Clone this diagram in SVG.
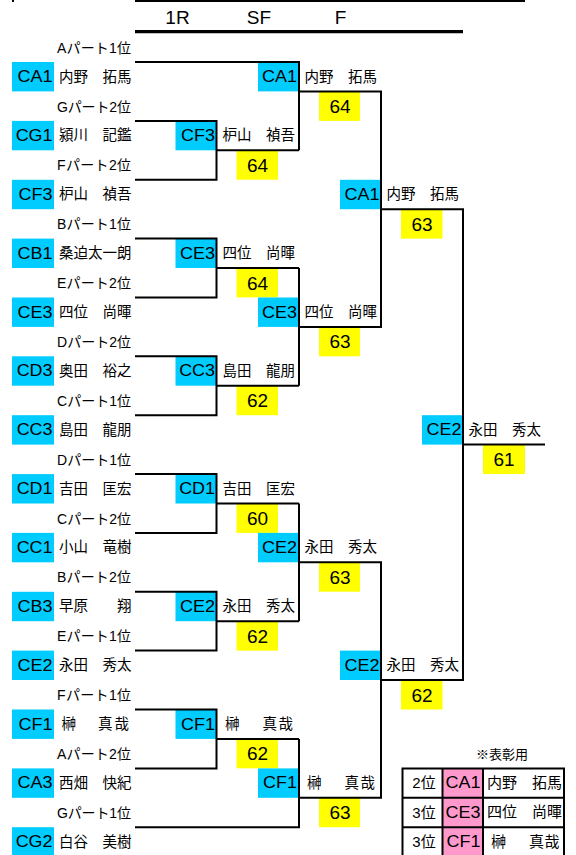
<svg xmlns="http://www.w3.org/2000/svg" width="576" height="855" viewBox="0 0 576 855">
<style>
.bg{fill:#ffffff}
.code{fill:#00CCFF}
.pink{fill:#FF99CC}
.score{fill:#FFFF00}
.ln{fill:none;stroke:#000;stroke-width:2}
.hd{fill:none;stroke:#000;stroke-width:3.3}
.ct{font-family:"Liberation Sans",Arial,sans-serif;font-size:16px;fill:#000;text-anchor:end}
.nm{font-family:"Noto Sans CJK JP","Liberation Sans",sans-serif;font-size:14.5px;fill:#000}
.tn{font-family:"Noto Sans CJK JP","Liberation Sans",sans-serif;font-size:15px;fill:#000}
.pt{font-family:"Liberation Sans","Noto Sans CJK JP",sans-serif;font-size:14px;fill:#000}
.sc{font-family:"Liberation Sans",Arial,sans-serif;font-size:19px;fill:#000;text-anchor:middle}
.hdt{font-family:"Liberation Sans",Arial,sans-serif;font-size:19px;fill:#000;text-anchor:middle}
.tp{font-family:"Liberation Sans","Noto Sans CJK JP",sans-serif;font-size:15px;fill:#000;text-anchor:middle}
.note{font-family:"Noto Sans CJK JP",sans-serif;font-size:13px;fill:#000;text-anchor:middle}
</style>
<rect class="bg" x="0" y="0" width="576" height="855"/>

<g id="header">
<rect x="12" y="0" width="2" height="2" fill="#000"/>
<line class="ln" x1="135" y1="1" x2="525" y2="1"/>
<text class="hdt" x="177.5" y="24">1R</text>
<text class="hdt" x="259" y="24">SF</text>
<text class="hdt" x="340.5" y="24">F</text>
<line class="hd" x1="135" y1="31.7" x2="463" y2="31.7"/>
</g>

<g id="part-labels">
<text class="pt" x="57" y="52.6" textLength="74">Aパート1位</text>
<text class="pt" x="57" y="111.5" textLength="74">Gパート2位</text>
<text class="pt" x="57" y="170.3" textLength="74">Fパート2位</text>
<text class="pt" x="57" y="229.2" textLength="74">Bパート1位</text>
<text class="pt" x="57" y="288.0" textLength="74">Eパート2位</text>
<text class="pt" x="57" y="346.9" textLength="74">Dパート2位</text>
<text class="pt" x="57" y="405.8" textLength="74">Cパート1位</text>
<text class="pt" x="57" y="464.6" textLength="74">Dパート1位</text>
<text class="pt" x="57" y="523.5" textLength="74">Cパート2位</text>
<text class="pt" x="57" y="582.3" textLength="74">Bパート2位</text>
<text class="pt" x="57" y="641.2" textLength="74">Eパート1位</text>
<text class="pt" x="57" y="700.1" textLength="74">Fパート1位</text>
<text class="pt" x="57" y="758.9" textLength="74">Aパート2位</text>
<text class="pt" x="57" y="817.8" textLength="74">Gパート1位</text>
</g>

<!-- Round 1 entries -->
<g id="r1-CA1"><rect class="code" x="12" y="62.0" width="42" height="29.4"/><text class="ct" x="52.5" y="82.0" textLength="34.9" lengthAdjust="spacingAndGlyphs">CA1</text><text class="nm" x="59" y="81.5">内野　拓馬</text></g>
<g id="r1-CG1"><rect class="code" x="12" y="120.9" width="42" height="29.4"/><text class="ct" x="52.5" y="140.9" textLength="36.8" lengthAdjust="spacingAndGlyphs">CG1</text><text class="nm" x="59" y="140.4">潁川　記鑑</text></g>
<g id="r1-CF3"><rect class="code" x="12" y="179.8" width="42" height="29.4"/><text class="ct" x="52.5" y="199.8" textLength="33.9" lengthAdjust="spacingAndGlyphs">CF3</text><text class="nm" x="59" y="199.3">枦山　禎吾</text></g>
<g id="r1-CB1"><rect class="code" x="12" y="238.6" width="42" height="29.4"/><text class="ct" x="52.5" y="258.6" textLength="34.9" lengthAdjust="spacingAndGlyphs">CB1</text><text class="nm" x="59" y="258.1">桑迫太一朗</text></g>
<g id="r1-CE3"><rect class="code" x="12" y="297.5" width="42" height="29.4"/><text class="ct" x="52.5" y="317.5" textLength="34.9" lengthAdjust="spacingAndGlyphs">CE3</text><text class="nm" x="59" y="317.0">四位　尚暉</text></g>
<g id="r1-CD3"><rect class="code" x="12" y="356.3" width="42" height="29.4"/><text class="ct" x="52.5" y="376.3" textLength="35.8" lengthAdjust="spacingAndGlyphs">CD3</text><text class="nm" x="59" y="375.8">奥田　裕之</text></g>
<g id="r1-CC3"><rect class="code" x="12" y="415.2" width="42" height="29.4"/><text class="ct" x="52.5" y="435.2" textLength="35.8" lengthAdjust="spacingAndGlyphs">CC3</text><text class="nm" x="59" y="434.7">島田　龍朋</text></g>
<g id="r1-CD1"><rect class="code" x="12" y="474.1" width="42" height="29.4"/><text class="ct" x="52.5" y="494.1" textLength="35.8" lengthAdjust="spacingAndGlyphs">CD1</text><text class="nm" x="59" y="493.6">吉田　匡宏</text></g>
<g id="r1-CC1"><rect class="code" x="12" y="532.9" width="42" height="29.4"/><text class="ct" x="52.5" y="552.9" textLength="35.8" lengthAdjust="spacingAndGlyphs">CC1</text><text class="nm" x="59" y="552.4">小山　竜樹</text></g>
<g id="r1-CB3"><rect class="code" x="12" y="591.8" width="42" height="29.4"/><text class="ct" x="52.5" y="611.8" textLength="34.9" lengthAdjust="spacingAndGlyphs">CB3</text><text class="nm" x="59" y="611.3">早原　　翔</text></g>
<g id="r1-CE2"><rect class="code" x="12" y="650.6" width="42" height="29.4"/><text class="ct" x="52.5" y="670.6" textLength="34.9" lengthAdjust="spacingAndGlyphs">CE2</text><text class="nm" x="59" y="670.1">永田　秀太</text></g>
<g id="r1-CF1"><rect class="code" x="12" y="709.5" width="42" height="29.4"/><text class="ct" x="52.5" y="729.5" textLength="33.9" lengthAdjust="spacingAndGlyphs">CF1</text><text class="nm" x="61.5 76 87 98 114.5" y="729.0">榊　　真哉</text></g>
<g id="r1-CA3"><rect class="code" x="12" y="768.4" width="42" height="29.4"/><text class="ct" x="52.5" y="788.4" textLength="34.9" lengthAdjust="spacingAndGlyphs">CA3</text><text class="nm" x="59" y="787.9">西畑　快紀</text></g>
<g id="r1-CG2"><rect class="code" x="12" y="827.2" width="42" height="29.4"/><text class="ct" x="52.5" y="847.2" textLength="36.8" lengthAdjust="spacingAndGlyphs">CG2</text><text class="nm" x="59" y="846.7">白谷　美樹</text></g>

<!-- SF column entries (1R winners) -->
<g id="sf-CF3"><rect class="code" x="175.5" y="120.9" width="41" height="29.4"/><text class="ct" x="215" y="140.9" textLength="33.9" lengthAdjust="spacingAndGlyphs">CF3</text><text class="nm" x="222.5" y="140.4">枦山　禎吾</text><rect class="score" x="236.5" y="150.3" width="41.5" height="29.4"/><text class="sc" x="257.5" y="171.8">64</text></g>
<g id="sf-CE3"><rect class="code" x="175.5" y="238.6" width="41" height="29.4"/><text class="ct" x="215" y="258.6" textLength="34.9" lengthAdjust="spacingAndGlyphs">CE3</text><text class="nm" x="222.5" y="258.1">四位　尚暉</text><rect class="score" x="236.5" y="268.0" width="41.5" height="29.4"/><text class="sc" x="257.5" y="289.5">64</text></g>
<g id="sf-CC3"><rect class="code" x="175.5" y="356.3" width="41" height="29.4"/><text class="ct" x="215" y="376.3" textLength="35.8" lengthAdjust="spacingAndGlyphs">CC3</text><text class="nm" x="222.5" y="375.8">島田　龍朋</text><rect class="score" x="236.5" y="385.8" width="41.5" height="29.4"/><text class="sc" x="257.5" y="407.3">62</text></g>
<g id="sf-CD1"><rect class="code" x="175.5" y="474.1" width="41" height="29.4"/><text class="ct" x="215" y="494.1" textLength="35.8" lengthAdjust="spacingAndGlyphs">CD1</text><text class="nm" x="222.5" y="493.6">吉田　匡宏</text><rect class="score" x="236.5" y="503.5" width="41.5" height="29.4"/><text class="sc" x="257.5" y="525.0">60</text></g>
<g id="sf-CE2"><rect class="code" x="175.5" y="591.8" width="41" height="29.4"/><text class="ct" x="215" y="611.8" textLength="34.9" lengthAdjust="spacingAndGlyphs">CE2</text><text class="nm" x="222.5" y="611.3">永田　秀太</text><rect class="score" x="236.5" y="621.2" width="41.5" height="29.4"/><text class="sc" x="257.5" y="642.7">62</text></g>
<g id="sf-CF1"><rect class="code" x="175.5" y="709.5" width="41" height="29.4"/><text class="ct" x="215" y="729.5" textLength="33.9" lengthAdjust="spacingAndGlyphs">CF1</text><text class="nm" x="225 239.5 250.5 262.5 278.5" y="729.0">榊　　真哉</text><rect class="score" x="236.5" y="738.9" width="41.5" height="29.4"/><text class="sc" x="257.5" y="760.4">62</text></g>

<!-- F column entries (SF winners) -->
<g id="f-CA1"><rect class="code" x="258" y="62.0" width="41" height="29.4"/><text class="ct" x="297" y="82.0" textLength="34.9" lengthAdjust="spacingAndGlyphs">CA1</text><text class="nm" x="304.5" y="81.5">内野　拓馬</text><rect class="score" x="319" y="91.5" width="41" height="29.4"/><text class="sc" x="340" y="113.0">64</text></g>
<g id="f-CE3"><rect class="code" x="258" y="297.5" width="41" height="29.4"/><text class="ct" x="297" y="317.5" textLength="34.9" lengthAdjust="spacingAndGlyphs">CE3</text><text class="nm" x="304.5" y="317.0">四位　尚暉</text><rect class="score" x="319" y="326.9" width="41" height="29.4"/><text class="sc" x="340" y="348.4">63</text></g>
<g id="f-CE2"><rect class="code" x="258" y="532.9" width="41" height="29.4"/><text class="ct" x="297" y="552.9" textLength="34.9" lengthAdjust="spacingAndGlyphs">CE2</text><text class="nm" x="304.5" y="552.4">永田　秀太</text><rect class="score" x="319" y="562.3" width="41" height="29.4"/><text class="sc" x="340" y="583.8">63</text></g>
<g id="f-CF1"><rect class="code" x="258" y="768.4" width="41" height="29.4"/><text class="ct" x="297" y="788.4" textLength="33.9" lengthAdjust="spacingAndGlyphs">CF1</text><text class="nm" x="307 321.5 332.5 344.5 360.5" y="787.9">榊　　真哉</text><rect class="score" x="319" y="797.8" width="41" height="29.4"/><text class="sc" x="340" y="819.3">63</text></g>

<!-- Semifinal winners -->
<g id="s-CA1"><rect class="code" x="340" y="179.8" width="41" height="29.4"/><text class="ct" x="379.5" y="199.8" textLength="34.9" lengthAdjust="spacingAndGlyphs">CA1</text><text class="nm" x="386.5" y="199.3">内野　拓馬</text><rect class="score" x="401" y="209.2" width="41.5" height="29.4"/><text class="sc" x="422" y="230.7">63</text></g>
<g id="s-CE2"><rect class="code" x="340" y="650.6" width="41" height="29.4"/><text class="ct" x="379.5" y="670.6" textLength="34.9" lengthAdjust="spacingAndGlyphs">CE2</text><text class="nm" x="386.5" y="670.1">永田　秀太</text><rect class="score" x="401" y="680.1" width="41.5" height="29.4"/><text class="sc" x="422" y="701.6">62</text></g>

<!-- Champion -->
<g id="champion-CE2"><rect class="code" x="422" y="415.2" width="41" height="29.4"/><text class="ct" x="461.5" y="435.2" textLength="34.9" lengthAdjust="spacingAndGlyphs">CE2</text><text class="nm" x="468.5" y="434.7">永田　秀太</text><rect class="score" x="483" y="444.6" width="42" height="29.4"/><text class="sc" x="504" y="466.1">61</text></g>

<g id="connectors">
<path class="ln" d="M135,120.9H216.5V179.8H135"/>
<path class="ln" d="M135,238.6H216.5V297.5H135"/>
<path class="ln" d="M135,356.3H216.5V415.2H135"/>
<path class="ln" d="M135,474.1H216.5V532.9H135"/>
<path class="ln" d="M135,591.8H216.5V650.6H135"/>
<path class="ln" d="M135,709.5H216.5V768.4H135"/>
<path class="ln" d="M216.5,150.3H299"/>
<path class="ln" d="M216.5,268.0H299"/>
<path class="ln" d="M216.5,385.8H299"/>
<path class="ln" d="M216.5,503.5H299"/>
<path class="ln" d="M216.5,621.2H299"/>
<path class="ln" d="M216.5,738.9H299"/>
<path class="ln" d="M135,62.0H299V150.3"/>
<path class="ln" d="M299,268.0V385.8"/>
<path class="ln" d="M299,503.5V621.2"/>
<path class="ln" d="M135,827.2H299V738.9"/>
<path class="ln" d="M299,91.5H381V326.9H299"/>
<path class="ln" d="M299,562.3H381V797.8H299"/>
<path class="ln" d="M381,209.2H463V680.1H381"/>
<path class="ln" d="M463,444.6H545"/>
</g>

<g id="award-table">
<text class="note" x="502" y="759">※表彰用</text>
<rect class="pink" x="442.5" y="768.4" width="40.5" height="88.2"/>
<text class="tp" x="424" y="788.4">2位</text>
<text class="ct" x="480.5" y="788.4" textLength="34.9" lengthAdjust="spacingAndGlyphs">CA1</text>
<text class="tn" x="487" y="787.9">内野　拓馬</text>
<text class="tp" x="424" y="817.8">3位</text>
<text class="ct" x="480.5" y="817.8" textLength="34.9" lengthAdjust="spacingAndGlyphs">CE3</text>
<text class="tn" x="487" y="817.3">四位　尚暉</text>
<text class="tp" x="424" y="847.2">3位</text>
<text class="ct" x="480.5" y="847.2" textLength="33.9" lengthAdjust="spacingAndGlyphs">CF1</text>
<text class="tn" x="491 505 516 529 544.5" y="846.7">榊　　真哉</text>
<path class="ln" d="M402.5,856.6V768.4H564V856.6M402.5,797.8H564M402.5,827.2H564M442.5,768.4V856.6M483,768.4V856.6"/>
</g>
</svg>
